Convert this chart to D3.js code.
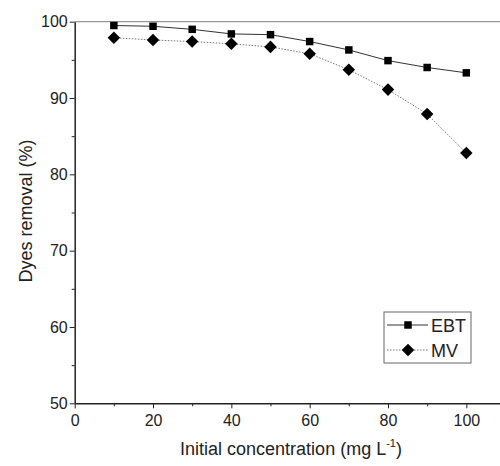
<!DOCTYPE html>
<html>
<head>
<meta charset="utf-8">
<script src="https://cdn.jsdelivr.net/npm/d3@7"></script>
<style>
body { margin: 0; background: #fff; }
svg { font-family: Arial, "Liberation Sans", sans-serif; }
.axis path, .axis line { stroke: #222; }
.axis text { font-size: 16px; fill: #222; }
</style>
</head>
<body>
<svg id="chart" width="500" height="466"></svg>
<script>
var concentration = [10, 20, 30, 40, 50, 60, 70, 80, 90, 100];
var ebt = [99.5, 99.4, 99.0, 98.4, 98.3, 97.4, 96.3, 94.9, 94.0, 93.3];
var mv = [97.9, 97.6, 97.4, 97.1, 96.7, 95.8, 93.7, 91.1, 87.9, 82.8];
var xticks = [0, 20, 40, 60, 80, 100];
var yticks = [50, 60, 70, 80, 90, 100];

var svg = d3.select("svg#chart");

var xscale = d3.scaleLinear()
    .domain([0, 108.6])
    .range([74.7, 500]);

var yscale = d3.scaleLinear()
    .domain([50, 100])
    .range([403.3, 21.7]);

// top frame line
svg.append("line")
    .attr("x1", xscale(0)).attr("x2", 500)
    .attr("y1", yscale(100)).attr("y2", yscale(100))
    .attr("stroke", "#999").attr("stroke-width", 1.2);

// minor ticks
svg.append("g")
    .attr("class", "axis")
    .attr("transform", "translate(0," + yscale(50) + ")")
    .call(d3.axisBottom(xscale).tickValues([10, 30, 50, 70, 90]).tickSize(3).tickFormat(""))
    .call(g => g.select(".domain").remove());

svg.append("g")
    .attr("class", "axis")
    .attr("transform", "translate(" + xscale(0) + ",0)")
    .call(d3.axisLeft(yscale).tickValues([55, 65, 75, 85, 95]).tickSize(3).tickFormat(""))
    .call(g => g.select(".domain").remove());

// x axis
var xaxis = svg.append("g")
    .attr("class", "axis")
    .attr("transform", "translate(0," + yscale(50) + ")")
    .call(d3.axisBottom(xscale).tickValues(xticks).tickSize(5).tickPadding(6).tickSizeOuter(0));
xaxis.select(".domain").attr("stroke-width", 1.5);

// y axis
var yaxis = svg.append("g")
    .attr("class", "axis")
    .attr("transform", "translate(" + xscale(0) + ",0)")
    .call(d3.axisLeft(yscale).tickValues(yticks).tickSize(5).tickPadding(2).tickSizeOuter(0));
yaxis.select(".domain").attr("stroke-width", 1.5);

// lines
var line = d3.line()
    .x((d, i) => xscale(concentration[i]))
    .y(d => yscale(d));

svg.append("path")
    .datum(ebt)
    .attr("fill", "none")
    .attr("stroke", "#333")
    .attr("stroke-width", 1)
    .attr("d", line);

svg.append("path")
    .datum(mv)
    .attr("fill", "none")
    .attr("stroke", "#777")
    .attr("stroke-width", 1)
    .attr("stroke-dasharray", "1.5,1.5")
    .attr("d", line);

var square = d3.symbol().type(d3.symbolSquare).size(56);
var diamond = d3.symbol().type(d3.symbolDiamond2).size(100);

svg.append("g").selectAll("path")
    .data(ebt)
    .join("path")
    .attr("transform", (d, i) => "translate(" + xscale(concentration[i]) + "," + yscale(d) + ")")
    .attr("d", square)
    .attr("fill", "#000");

svg.append("g").selectAll("path")
    .data(mv)
    .join("path")
    .attr("transform", (d, i) => "translate(" + xscale(concentration[i]) + "," + yscale(d) + ")")
    .attr("d", diamond)
    .attr("fill", "#000");

// axis labels
svg.append("text")
    .attr("transform", "translate(32,211) rotate(-90)")
    .attr("text-anchor", "middle")
    .attr("font-size", 18)
    .attr("fill", "#222")
    .text("Dyes removal (%)");

var xlab = svg.append("text")
    .attr("x", 291)
    .attr("y", 455)
    .attr("text-anchor", "middle")
    .attr("font-size", 18)
    .attr("fill", "#222");
xlab.append("tspan").text("Initial concentration (mg L");
xlab.append("tspan").attr("dy", -8).attr("font-size", 11).text("-1");
xlab.append("tspan").attr("dy", 8).text(")");

// legend
var legend = svg.append("g").attr("transform", "translate(384,312)");
legend.append("rect")
    .attr("width", 87).attr("height", 51)
    .attr("fill", "#fff").attr("stroke", "#666").attr("stroke-width", 1);

var legendItems = [
    { name: "EBT", stroke: "#333", dash: null, sym: square, y: 13 },
    { name: "MV", stroke: "#777", dash: "1.5,1.5", sym: diamond, y: 38 }
];
legendItems.forEach(function(item) {
    legend.append("line")
        .attr("x1", 3).attr("x2", 44)
        .attr("y1", item.y).attr("y2", item.y)
        .attr("stroke", item.stroke)
        .attr("stroke-dasharray", item.dash);
    legend.append("path")
        .attr("transform", "translate(24," + item.y + ")")
        .attr("d", item.sym)
        .attr("fill", "#000");
    legend.append("text")
        .attr("x", 47).attr("y", item.y + 7)
        .attr("font-size", 18)
        .attr("fill", "#222")
        .text(item.name);
});
</script>
</body>
</html>
